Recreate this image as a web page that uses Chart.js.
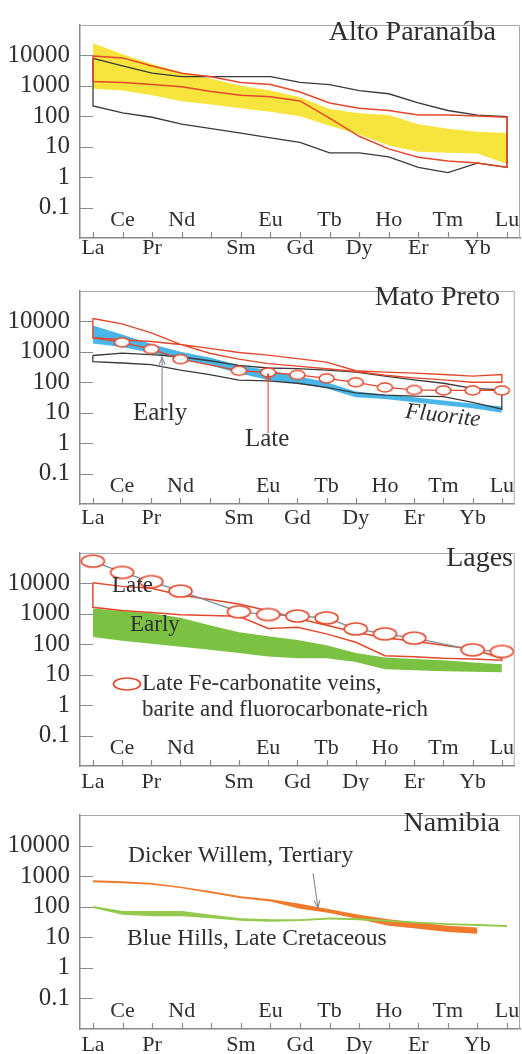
<!DOCTYPE html>
<html><head><meta charset="utf-8">
<script src="https://cdn.jsdelivr.net/npm/chart.js@4.4.1/dist/chart.umd.min.js"></script>
<style>
html,body{margin:0;padding:0;background:#fff;}
body{width:522px;height:1054px;position:relative;overflow:hidden;}
canvas{position:absolute;left:0;}
</style></head><body>
<canvas id="p1" width="522" height="263" style="top:0px"></canvas>
<canvas id="p2" width="522" height="263" style="top:266px"></canvas>
<canvas id="p3" width="522" height="263" style="top:528px"></canvas>
<canvas id="p4" width="522" height="264" style="top:790px"></canvas>
<script>
// ---------- categories / ticks ----------
const ELEMENTS = ['La','Ce','Pr','Nd','Pm','Sm','Eu','Gd','Tb','Dy','Ho','Er','Tm','Yb','Lu'];
const LOWER_LABEL_IDX = [0,2,5,7,9,11,13];
const UPPER_LABEL_IDX = [1,3,6,8,10,12,14];
const Y_TICKS = [0.1,1,10,100,1000,10000];

// ---------- Alto Paranaíba ----------
const altoYellowUpper = [25000,11000,5200,2800,1700,1000,700,420,175,125,110,55,39,31,28];
const altoYellowLower = [800,700,490,310,245,185,140,100,49,25,11,6.8,6.3,6.0,2.7];
const altoRedUpper    = [9500,8300,4500,2600,2000,1300,1100,630,275,185,155,110,110,102,93];
const altoRedLower    = [1400,1300,1100,930,650,490,440,320,87,22,8.5,4.5,3.4,2.9,2.1];
const altoBlackUpper  = [8000,4500,2600,2000,2000,2000,2000,1300,1100,700,550,275,155,110,98];
const altoBlackLower  = [220,130,93,55,39,28,19.5,14,6.3,6.3,4.6,2.1,1.4,2.9,2.1];

// ---------- Mato Preto ----------
const matoLateA        = [12500,8300,4200,1750,900,575,410,340,280,225,170,140,120,100,100];
const matoLateB        = [2900,2500,2200,1750,1300,950,780,600,460,240,215,200,180,160,180];
const matoCircles      = [2900,2050,1230,575,null,240,210,175,135,100,68,56,54,54,54];
const matoEarlyUpper   = [760,910,810,690,510,360,295,280,250,215,160,120,93,63,56];
const matoEarlyLower   = [480,430,380,250,180,118,112,93,68,45,38,35,34,22,13];
const matoFluoriteUpper= [7400,3700,1800,1000,650,360,250,160,100,50,40,32,25,20,16];
const matoFluoriteLower= [1900,1450,910,575,360,200,118,91,63,32,28,22,17.5,14,10];

// ---------- Lages ----------
const lagesCircles    = [54000,23000,11500,5600,null,1170,950,850,740,320,220,160,null,66,58];
const lagesLateUpper  = [10500,8000,6900,4200,2950,2100,1260,700,420,250,165,125,93,69,35];
const lagesLateLower  = [1650,1300,1100,930,890,830,330,360,220,117,42,39,35,33,30];
const lagesEarlyUpper = [1500,1250,1050,740,420,250,185,138,93,52,37,33,30,25,22];
const lagesEarlyLower = [175,130,105,83,66,52,40,35,35,26,15,14,13,12.5,12];

// ---------- Namibia ----------
const namDickerUpper  = [740,680,600,450,320,220,175,125,83,55,39,30,24,21];
const namDickerLower  = [630,590,525,400,275,190,148,85,62,39,24,19,15,13];
const namBlueHillsUpper = [105,72,72,72,55,42,39,39,44,42,37,32,29,27,25];
const namBlueHillsLower = [91,55,49,49,42,35,32,34,38,36,32,28,25,23.5,21.5];

// ---------- styling ----------
const FONT = '"Liberation Serif", "Times New Roman", serif';
const TEXT = '#2f2f2f';
const AXIS = '#8a8a8a';
const RED = '#e4482c';
const DARK = '#3a3a3a';
const YELLOW = '#f7e43c';
const BLUE = '#48b6e8';
const GREEN3 = '#7cc242';
const GREEN4 = '#93c94c';
const ORANGE = '#f07a2c';
const GRAYLINE = '#7d8c94';

function pts(arr){ return arr.map((v,i)=>({x:i, y:v})); }
function ring(upper, lower){ const u = pts(upper); const l = pts(lower).reverse(); return u.concat(l, [u[0]]); }
function band(upper, lower, color, order){
  return [
    {data: pts(upper), borderWidth: 0, borderColor: 'transparent', backgroundColor: color, fill: '+1', pointRadius: 0, order},
    {data: pts(lower), borderWidth: 0, borderColor: 'transparent', backgroundColor: color, fill: false, pointRadius: 0, order}
  ];
}
function outline(upper, lower, color, width, order){
  return {data: ring(upper, lower), borderColor: color, borderWidth: width, fill: false, pointRadius: 0, order};
}
function ellipseImg(w, h, color, lw){
  const c = document.createElement('canvas'); c.width = w + 4; c.height = h + 4;
  const g = c.getContext('2d');
  g.beginPath(); g.ellipse(c.width/2, c.height/2, w/2, h/2, 0, 0, Math.PI*2);
  g.fillStyle = '#fff'; g.fill(); g.lineWidth = lw; g.strokeStyle = color; g.stroke();
  return c;
}
function circles(values, lineColor, img, order){
  return {data: pts(values), borderColor: lineColor, borderWidth: 1.3, fill: false, spanGaps: true,
    pointStyle: img, pointRadius: values.map((v,i)=> (i===0 && values===matoCircles) ? 0 : 6), order};
}

// annotation layout (canvas pixels for text, data units for arrows)
const PANELS = {
  p1: {title: 'Alto Paranaíba', titleRight: 496, titleBase: 40, lowerOff: 10, texts: [], arrows: []},
  p2: {title: 'Mato Preto', titleRight: 500, titleBase: 39, lowerOff: 14,
       texts: [
         {t: 'Early', x: 133, y: 154, size: 25},
         {t: 'Late', x: 245, y: 180, size: 25},
         {t: 'Fluorite', x: 443, y: 150, size: 23, italic: true, rot: 6.5, center: true}
       ],
       arrows: [
         {from: [2.37, 14], to: [2.37, 660], color: '#858b90'},
         {from: [6.0, 2.1], to: [6.0, 186], color: RED}
       ]},
  p3: {title: 'Lages', titleRight: 513, titleBase: 38, lowerOff: 16,
       texts: [
         {t: 'Late', x: 112, y: 64, size: 23},
         {t: 'Early', x: 130, y: 103, size: 23},
         {t: 'Late Fe-carbonatite veins,', x: 142, y: 162, size: 23},
         {t: 'barite and fluorocarbonate-rich', x: 142, y: 188, size: 23}
       ],
       legendEllipse: {x: 127, y: 156, w: 27, h: 12},
       arrows: []},
  p4: {title: 'Namibia', titleRight: 500, titleBase: 41, lowerOff: 16,
       texts: [
         {t: 'Dicker Willem, Tertiary', x: 128, y: 72, size: 23.5},
         {t: 'Blue Hills, Late Cretaceous', x: 127, y: 155, size: 23.5}
       ],
       arrows: [
         {from: [7.44, 1230], to: [7.61, 93], color: '#858b90'}
       ]}
};

const decor = {
  id: 'decor',
  afterDraw(chart){
    const cfg = PANELS[chart.canvas.id];
    const ctx = chart.ctx, ca = chart.chartArea;
    const xs = chart.scales.x, ys = chart.scales.y;
    ctx.save();
    // frame top/right
    ctx.strokeStyle = '#a8a8a8'; ctx.lineWidth = 1;
    ctx.beginPath();
    ctx.moveTo(ca.left, ca.top + 0.5); ctx.lineTo(ca.right - 0.5, ca.top + 0.5); ctx.lineTo(ca.right - 0.5, ca.bottom);
    ctx.stroke();
    // inward ticks
    ctx.strokeStyle = AXIS; ctx.lineWidth = 1.2;
    ctx.beginPath();
    ELEMENTS.forEach((e,i)=>{ const px = Math.round(xs.getPixelForValue(i)) + 0.5; ctx.moveTo(px, ca.bottom); ctx.lineTo(px, ca.bottom - 6); });
    Y_TICKS.forEach(v=>{ const py = Math.round(ys.getPixelForValue(v)) + 0.5; ctx.moveTo(ca.left, py); ctx.lineTo(ca.left + 13, py); });
    ctx.stroke();
    // upper row element labels
    ctx.fillStyle = TEXT; ctx.font = '22px ' + FONT; ctx.textAlign = 'center'; ctx.textBaseline = 'middle';
    UPPER_LABEL_IDX.forEach(i => ctx.fillText(ELEMENTS[i], xs.getPixelForValue(i), ca.bottom - 18));
    // title
    ctx.font = '28px ' + FONT; ctx.textAlign = 'right'; ctx.textBaseline = 'alphabetic';
    ctx.fillText(cfg.title, cfg.titleRight, cfg.titleBase);
    // arrows
    cfg.arrows.forEach(a=>{
      const x1 = xs.getPixelForValue(a.from[0]), y1 = ys.getPixelForValue(a.from[1]);
      const x2 = xs.getPixelForValue(a.to[0]), y2 = ys.getPixelForValue(a.to[1]);
      ctx.strokeStyle = a.color; ctx.lineWidth = 1.1;
      ctx.beginPath(); ctx.moveTo(x1, y1); ctx.lineTo(x2, y2); ctx.stroke();
      const ang = Math.atan2(y2 - y1, x2 - x1), L = 8, s = 0.38;
      ctx.beginPath();
      ctx.moveTo(x2 - L*Math.cos(ang - s), y2 - L*Math.sin(ang - s));
      ctx.lineTo(x2, y2);
      ctx.lineTo(x2 - L*Math.cos(ang + s), y2 - L*Math.sin(ang + s));
      ctx.stroke();
    });
    // legend ellipse
    if (cfg.legendEllipse){
      const e = cfg.legendEllipse;
      ctx.beginPath(); ctx.ellipse(e.x, e.y, e.w/2, e.h/2, 0, 0, Math.PI*2);
      ctx.fillStyle = '#fff'; ctx.fill(); ctx.strokeStyle = RED; ctx.lineWidth = 1.6; ctx.stroke();
    }
    // texts
    ctx.fillStyle = TEXT;
    cfg.texts.forEach(t=>{
      ctx.save();
      ctx.font = (t.italic ? 'italic ' : '') + t.size + 'px ' + FONT;
      if (t.rot){
        ctx.translate(t.x, t.y); ctx.rotate(t.rot*Math.PI/180);
        ctx.textAlign = 'center'; ctx.textBaseline = 'middle'; ctx.fillText(t.t, 0, 0);
      } else {
        ctx.textAlign = 'left'; ctx.textBaseline = 'alphabetic'; ctx.fillText(t.t, t.x, t.y);
      }
      ctx.restore();
    });
    ctx.restore();
  }
};

function makeChart(id, datasets){
  const cfg = PANELS[id];
  return new Chart(document.getElementById(id), {
    type: 'line',
    data: {datasets},
    options: {
      responsive: false, animation: false, devicePixelRatio: 1, events: [],
      layout: {padding: {top: 7, right: 2, left: 0, bottom: 0}},
      plugins: {legend: {display: false}, tooltip: {enabled: false}},
      elements: {line: {tension: 0}},
      scales: {
        x: {
          type: 'linear', min: -0.44, max: 14.44,
          grid: {display: false, drawTicks: false},
          border: {display: true, color: AXIS, width: 1.5},
          afterFit: s => { s.height = 25; },
          afterBuildTicks: s => { s.ticks = LOWER_LABEL_IDX.map(v => ({value: v})); },
          ticks: {autoSkip: false, maxRotation: 0, minRotation: 0, color: TEXT,
                  font: {family: FONT, size: 22, lineHeight: 1}, padding: cfg.lowerOff - 11,
                  callback: v => ELEMENTS[v] || ''}
        },
        y: {
          type: 'logarithmic', min: 0.01, max: 100000,
          grid: {display: false, drawTicks: false},
          border: {display: true, color: AXIS, width: 1.5},
          afterFit: s => { s.width = 80; },
          afterBuildTicks: s => { s.ticks = Y_TICKS.map(v => ({value: v})); },
          ticks: {autoSkip: false, color: TEXT, font: {family: FONT, size: 25}, padding: 10,
                  callback: v => String(v)}
        }
      }
    },
    plugins: [decor]
  });
}

const imgSmall = ellipseImg(15, 9, RED, 1.5);
const imgBig = ellipseImg(23, 12, RED, 1.6);

makeChart('p1', [
  ...band(altoYellowUpper, altoYellowLower, YELLOW, 10),
  outline(altoBlackUpper, altoBlackLower, DARK, 1.3, 2),
  outline(altoRedUpper, altoRedLower, RED, 1.5, 1)
]);

makeChart('p2', [
  ...band(matoFluoriteUpper, matoFluoriteLower, BLUE, 10),
  outline(matoEarlyUpper, matoEarlyLower, DARK, 1.3, 3),
  outline(matoLateA, matoLateB, RED, 1.4, 2),
  circles(matoCircles, RED, imgSmall, 0)
]);

makeChart('p3', [
  ...band(lagesEarlyUpper, lagesEarlyLower, GREEN3, 10),
  outline(lagesLateUpper, lagesLateLower, RED, 1.5, 2),
  circles(lagesCircles, GRAYLINE, imgBig, 0)
]);

makeChart('p4', [
  ...band(namDickerUpper, namDickerLower, ORANGE, 10),
  ...band(namBlueHillsUpper, namBlueHillsLower, GREEN4, 5)
]);
</script>
</body></html>
